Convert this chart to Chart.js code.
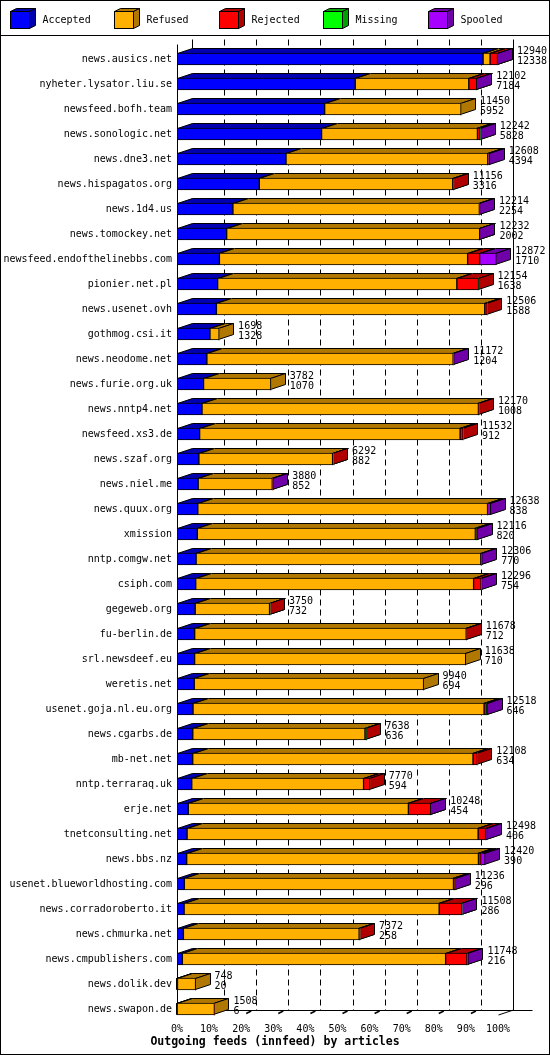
<!DOCTYPE html>
<html>
<head>
<meta charset="utf-8">
<title>Outgoing feeds (innfeed) by articles</title>
<script src="https://cdn.jsdelivr.net/npm/chart.js@4.4.1/dist/chart.umd.min.js"></script>
<style>
  body { margin: 0; background: #fff; }
  canvas { display: block; }
</style>
</head>
<body>
<canvas id="feeds" width="550" height="1055"></canvas>
<script>
// peers, top to bottom
const hosts = [
  'news.ausics.net', 'nyheter.lysator.liu.se', 'newsfeed.bofh.team', 'news.sonologic.net',
  'news.dne3.net', 'news.hispagatos.org', 'news.1d4.us', 'news.tomockey.net',
  'newsfeed.endofthelinebbs.com', 'pionier.net.pl', 'news.usenet.ovh', 'gothmog.csi.it',
  'news.neodome.net', 'news.furie.org.uk', 'news.nntp4.net', 'newsfeed.xs3.de',
  'news.szaf.org', 'news.niel.me', 'news.quux.org', 'xmission',
  'nntp.comgw.net', 'csiph.com', 'gegeweb.org', 'fu-berlin.de',
  'srl.newsdeef.eu', 'weretis.net', 'usenet.goja.nl.eu.org', 'news.cgarbs.de',
  'mb-net.net', 'nntp.terraraq.uk', 'erje.net', 'tnetconsulting.net',
  'news.bbs.nz', 'usenet.blueworldhosting.com', 'news.corradoroberto.it', 'news.chmurka.net',
  'news.cmpublishers.com', 'news.dolik.dev', 'news.swapon.de'
];

// printed numbers (offered / accepted)
const totals = [
  12940, 12102, 11450, 12242, 12608, 11156, 12214, 12232, 12872, 12154, 12506, 1698, 11172,
  3782, 12170, 11532, 6292, 3880, 12638, 12116, 12306, 12296, 3750, 11678, 11638, 9940,
  12518, 7638, 12108, 7770, 10248, 12498, 12420, 11236, 11508, 7372, 11748, 748, 1508
];
const accepted = [
  12338, 7184, 5952, 5828, 4394, 3316, 2254, 2002, 1710, 1638, 1588, 1328, 1204,
  1070, 1008, 912, 882, 852, 838, 820, 770, 754, 732, 712, 710, 694,
  646, 636, 634, 594, 454, 406, 390, 296, 286, 258, 216, 20, 6
];
const refused = [
  282, 4578, 5498, 6284, 8134, 7800, 9935, 10200, 10005, 9642, 10818, 370, 9928,
  2712, 11142, 10500, 5390, 2988, 11680, 11206, 11476, 11202, 2998, 10946, 10928, 9246,
  11732, 6942, 11299, 6926, 8874, 11732, 11762, 10850, 10282, 7084, 10612, 728, 1502
];
const rejected = [
  300, 320, 0, 110, 0, 40, 0, 0, 484, 874, 100, 0, 0,
  0, 20, 120, 20, 0, 0, 50, 0, 300, 20, 20, 0, 0,
  100, 60, 175, 250, 900, 300, 107, 50, 920, 30, 860, 0, 0
];
const missing = [
  0, 0, 0, 0, 0, 0, 0, 0, 0, 0, 0, 0, 0,
  0, 0, 0, 0, 0, 0, 0, 0, 0, 0, 0, 0, 0,
  0, 0, 0, 0, 0, 0, 0, 0, 0, 0, 0, 0, 0
];
const spooled = [
  20, 20, 0, 20, 80, 0, 25, 30, 673, 0, 0, 0, 40,
  0, 0, 0, 0, 40, 120, 40, 60, 40, 0, 0, 0, 0,
  40, 0, 0, 0, 20, 60, 161, 40, 20, 0, 60, 0, 0
];
const pctTicks = [0, 10, 20, 30, 40, 50, 60, 70, 80, 90, 100];

const seriesNames = ['Accepted', 'Refused', 'Rejected', 'Missing', 'Spooled'];
const frontColors = ['#0000ff', '#ffb000', '#ff0000', '#00ff00', '#a800ff'];
const sideColors = ['#0000b0', '#b07800', '#b00000', '#00a000', '#7000a8'];

const DX = 15, DY = 5;
const FONT = "10px 'DejaVu Sans Mono', monospace";
const xMax = Math.max(...totals);

function poly(ctx, pts) {
  ctx.beginPath();
  ctx.moveTo(pts[0][0], pts[0][1]);
  for (let k = 1; k < pts.length; k++) ctx.lineTo(pts[k][0], pts[k][1]);
  ctx.closePath();
  ctx.fill();
  ctx.stroke();
}

function line(ctx, x1, y1, x2, y2) {
  ctx.beginPath();
  ctx.moveTo(x1, y1);
  ctx.lineTo(x2, y2);
  ctx.stroke();
}

// back wall, floor and the depth faces of every bar segment
const bars3d = {
  id: 'bars3d',
  beforeDatasetsDraw(chart) {
    const ctx = chart.ctx;
    const area = chart.chartArea;
    const xs = chart.scales.x;
    const ys = chart.scales.y;
    const floorFront = ys.getPixelForValue(hosts.length - 1) + 6;
    const floorBack = floorFront - DY;
    const top = area.top - 7;

    ctx.save();
    ctx.strokeStyle = '#000';
    ctx.lineWidth = 1;

    const x0 = Math.round(xs.getPixelForValue(0)) + 0.5;
    const x100 = Math.round(xs.getPixelForValue(xMax)) + 0.5;

    ctx.setLineDash([6, 4]);
    pctTicks.forEach(p => {
      if (p === 0 || p === 100) return;
      const x = Math.round(xs.getPixelForValue(p / 100 * xMax)) + DX + 0.5;
      line(ctx, x, top, x, floorBack);
    });
    ctx.setLineDash([]);

    line(ctx, x0 + DX, top, x0 + DX, area.top + 2);
    line(ctx, x100 + DX, top, x100 + DX, floorBack);
    line(ctx, x0, area.top - 2, x0, floorFront);
    line(ctx, x0, floorBack + 0.5, x100 + DX + 19, floorBack + 0.5);
    line(ctx, x100, floorFront, x100 + DX, floorBack);

    ctx.lineWidth = 1.5;
    pctTicks.forEach(p => {
      if (p === 0 || p === 100) return;
      const x = xs.getPixelForValue(p / 100 * xMax);
      line(ctx, x + 5, floorBack + 3.5, x + 10, floorBack + 1);
    });

    ctx.lineWidth = 1;
    for (let j = 0; j < hosts.length; j++) {
      chart.data.datasets.forEach((ds, i) => {
        if (!ds.data[j]) return;
        const el = chart.getDatasetMeta(i).data[j];
        const { x, base, y, height } = el.getProps(['x', 'base', 'y', 'height'], true);
        const l = Math.round(Math.min(x, base)) + 0.5;
        const r = Math.round(Math.max(x, base)) - 0.5;
        const t = Math.round(y - height / 2) + 0.5;
        const b = Math.round(y + height / 2) - 0.5;
        ctx.fillStyle = sideColors[i];
        poly(ctx, [[l, t], [l + DX, t - DY], [r + DX, t - DY], [r, t]]);
        poly(ctx, [[r, t], [r + DX, t - DY], [r + DX, b - DY], [r, b]]);
      });
    }
    ctx.restore();
  },
  afterDatasetsDraw(chart) {
    const ctx = chart.ctx;
    const xs = chart.scales.x;
    const ys = chart.scales.y;
    ctx.save();
    ctx.font = FONT;
    ctx.fillStyle = '#000';
    ctx.textAlign = 'left';
    ctx.textBaseline = 'middle';
    hosts.forEach((h, j) => {
      const x = xs.getPixelForValue(totals[j]) + DX + 4;
      const y = ys.getPixelForValue(j);
      ctx.fillText(String(totals[j]), x, y - 8);
      ctx.fillText(String(accepted[j]), x, y + 2);
    });
    ctx.restore();
  },
  afterDraw(chart) {
    const ctx = chart.ctx;
    const W = chart.width, H = chart.height;
    ctx.save();
    ctx.strokeStyle = '#000';
    ctx.lineWidth = 1;
    ctx.strokeRect(0.5, 0.5, W - 1, H - 1);
    line(ctx, 0, 35.5, W, 35.5);

    // legend with little cubes
    ctx.font = FONT;
    ctx.textAlign = 'left';
    ctx.textBaseline = 'middle';
    seriesNames.forEach((name, i) => {
      const x = Math.round(10 + i * 104.4) + 0.5;
      const y = 11.5;
      ctx.fillStyle = sideColors[i];
      poly(ctx, [[x, y], [x + 6, y - 3], [x + 25, y - 3], [x + 19, y]]);
      poly(ctx, [[x + 19, y], [x + 25, y - 3], [x + 25, y + 14], [x + 19, y + 17]]);
      ctx.fillStyle = frontColors[i];
      ctx.fillRect(x, y, 19, 17);
      ctx.strokeRect(x, y, 19, 17);
      ctx.fillStyle = '#000';
      ctx.fillText(name, x + 32, 20);
    });

    ctx.font = "bold 11.5px 'DejaVu Sans Mono', monospace";
    ctx.textAlign = 'center';
    ctx.fillText('Outgoing feeds (innfeed) by articles', W / 2, 1042);
    ctx.restore();
  }
};

const series = [accepted, refused, rejected, missing, spooled];

new Chart(document.getElementById('feeds'), {
  type: 'bar',
  data: {
    labels: hosts,
    datasets: series.map((values, i) => ({
      label: seriesNames[i],
      data: values,
      backgroundColor: frontColors[i],
      borderColor: '#000',
      borderWidth: c => (c.raw ? 1 : 0),
      borderSkipped: false,
      barThickness: 12
    }))
  },
  options: {
    indexAxis: 'y',
    responsive: false,
    animation: false,
    layout: { padding: { top: 46.5, right: 52, left: 0, bottom: 0 } },
    plugins: {
      legend: { display: false },
      tooltip: { enabled: false },
      title: { display: false }
    },
    scales: {
      x: {
        type: 'linear',
        stacked: true,
        min: 0,
        max: xMax,
        afterBuildTicks: s => { s.ticks = pctTicks.map(p => ({ value: p / 100 * xMax })); },
        afterFit: s => { s.height = 33.5; },
        grid: { display: false, drawTicks: false },
        border: { display: false },
        ticks: {
          color: '#000',
          padding: 2,
          maxRotation: 0,
          font: { family: "'DejaVu Sans Mono', monospace", size: 10 },
          callback: v => Math.round(v / xMax * 100) + '%'
        }
      },
      y: {
        stacked: true,
        afterFit: s => { s.width = 177; },
        grid: { display: false, drawTicks: false },
        border: { display: false },
        ticks: {
          color: '#000',
          padding: 5,
          autoSkip: false,
          font: { family: "'DejaVu Sans Mono', monospace", size: 10 }
        }
      }
    }
  },
  plugins: [bars3d]
});
</script>
</body>
</html>
